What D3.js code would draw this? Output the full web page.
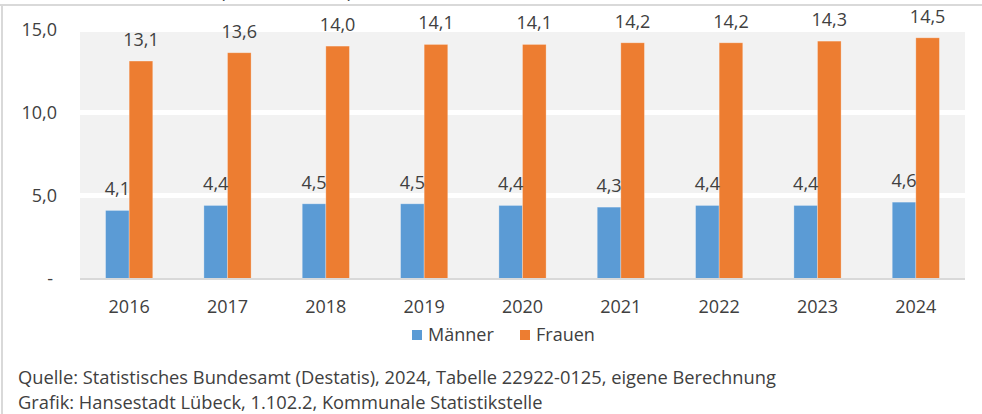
<!DOCTYPE html>
<html>
<head>
<meta charset="utf-8">
<script src="https://cdn.jsdelivr.net/npm/d3@7"></script>
<style>
  html, body { margin: 0; padding: 0; background: #fff; }
  svg { display: block; font-family: "Open Sans", sans-serif; }
</style>
</head>
<body>
<div id="chart"></div>
<script>
// Daten
const years = ['2016', '2017', '2018', '2019', '2020', '2021', '2022', '2023', '2024'];
const maenner = [4.1, 4.4, 4.5, 4.5, 4.4, 4.3, 4.4, 4.4, 4.6];
const frauen = [13.1, 13.6, 14.0, 14.1, 14.1, 14.2, 14.2, 14.3, 14.5];
const yTicks = [0, 5, 10, 15];
const seriesNames = ['Männer', 'Frauen'];
const seriesColors = ['#5b9bd5', '#ed7d31'];
const sourceLines = [
  'Quelle: Statistisches Bundesamt (Destatis), 2024, Tabelle 22922-0125, eigene Berechnung',
  'Grafik: Hansestadt Lübeck, 1.102.2, Kommunale Statistikstelle'
];

const W = 982, H = 414;
const margin = { left: 80, right: 17, top: 29.5, bottom: 135.5 };
const textColor = '#404040';
const fmt = v => v.toFixed(1).replace('.', ',');

const svg = d3.select('#chart').append('svg')
  .attr('width', W).attr('height', H);

// Rahmen (oben + links)
svg.append('line').attr('x1', 0).attr('x2', W).attr('y1', 5).attr('y2', 5)
  .attr('stroke', '#d9d9d9').attr('stroke-width', 2);
svg.append('line').attr('x1', 2).attr('x2', 2).attr('y1', 5).attr('y2', H)
  .attr('stroke', '#d9d9d9').attr('stroke-width', 2);

// abgeschnittener Titel (nur Unterkanten sichtbar)
svg.append('text').attr('x', 220).attr('y', -2).attr('font-size', 18)
  .attr('fill', textColor).text('(');
svg.append('text').attr('x', 347).attr('y', -2).attr('font-size', 18)
  .attr('fill', textColor).text(')');

const x0 = d3.scaleBand().domain(years)
  .range([margin.left, W - margin.right]).paddingInner(0.52).paddingOuter(0.26);
const x1 = d3.scaleBand().domain(seriesNames).range([0, x0.bandwidth()]);
const y = d3.scaleLinear().domain([0, 15]).range([H - margin.bottom, margin.top]);

// Plotfläche
svg.append('rect')
  .attr('x', margin.left).attr('y', y(15))
  .attr('width', W - margin.right - margin.left).attr('height', y(0) - y(15))
  .attr('fill', '#f2f2f2');

// Gitterlinien
svg.append('g').selectAll('line').data(yTicks.filter(d => d > 0)).join('line')
  .attr('x1', margin.left).attr('x2', W - margin.right)
  .attr('y1', d => y(d)).attr('y2', d => y(d))
  .attr('stroke', '#fff').attr('stroke-width', 5);

// Y-Achse Beschriftung
svg.append('g').selectAll('text').data(yTicks).join('text')
  .attr('x', d => d === 0 ? 53 : 57)
  .attr('y', d => y(d))
  .attr('dy', '0.35em')
  .attr('text-anchor', 'end')
  .attr('font-size', 18)
  .attr('fill', textColor)
  .text(d => d === 0 ? '-' : fmt(d));

// Balken
const data = years.map((yr, i) => ({ year: yr, values: [maenner[i], frauen[i]] }));
const groups = svg.append('g').selectAll('g').data(data).join('g')
  .attr('transform', d => `translate(${x0(d.year)},0)`);

groups.selectAll('rect').data(d => d.values.map((v, j) => ({ v, name: seriesNames[j], j })))
  .join('rect')
  .attr('x', d => x1(d.name))
  .attr('y', d => y(d.v))
  .attr('width', x1.bandwidth())
  .attr('height', d => y(0) - y(d.v))
  .attr('fill', d => seriesColors[d.j])
  .attr('stroke', 'rgba(255,255,255,0.35)')
  .attr('stroke-width', 0.8);

groups.selectAll('text').data(d => d.values.map((v, j) => ({ v, name: seriesNames[j], j })))
  .join('text')
  .attr('x', d => x1(d.name) + x1.bandwidth() / 2)
  .attr('y', d => y(d.v) - 15)
  .attr('text-anchor', 'middle')
  .attr('font-size', 18)
  .attr('fill', textColor)
  .text(d => fmt(d.v));

// X-Achse
svg.append('line')
  .attr('x1', margin.left).attr('x2', W - margin.right)
  .attr('y1', y(0) + 0.5).attr('y2', y(0) + 0.5)
  .attr('stroke', '#d9d9d9').attr('stroke-width', 2);

svg.append('g').selectAll('text').data(years).join('text')
  .attr('x', d => x0(d) + x0.bandwidth() / 2)
  .attr('y', y(0) + 34)
  .attr('text-anchor', 'middle')
  .attr('font-size', 18)
  .attr('fill', textColor)
  .text(d => d);

// Legende
const legendX = [412, 520];
const legend = svg.append('g').selectAll('g').data(seriesNames).join('g')
  .attr('transform', (d, i) => `translate(${legendX[i]},330)`);
legend.append('rect').attr('width', 10).attr('height', 10)
  .attr('fill', (d, i) => seriesColors[i]);
legend.append('text').attr('x', 16).attr('y', 11)
  .attr('font-size', 18).attr('fill', textColor).text(d => d);

// Quelle
svg.append('g').selectAll('text').data(sourceLines).join('text')
  .attr('x', 18)
  .attr('y', (d, i) => 384 + i * 25)
  .attr('font-size', 18.3)
  .attr('fill', textColor)
  .text(d => d);
</script>
</body>
</html>
